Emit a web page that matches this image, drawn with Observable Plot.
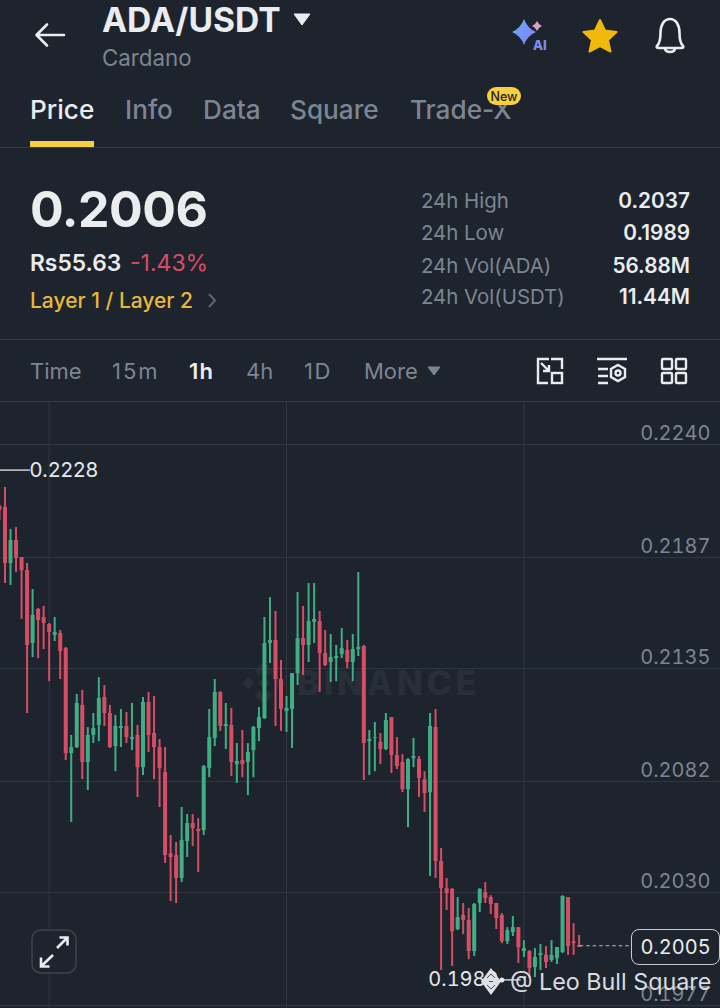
<!DOCTYPE html>
<html><head><meta charset="utf-8">
<script src="https://cdn.jsdelivr.net/npm/d3@7"></script>
<script src="https://cdn.jsdelivr.net/npm/@observablehq/plot@0.6"></script>
<style>
html,body{margin:0;padding:0;background:#1e242e;width:720px;height:1008px;overflow:hidden;font-family:Inter,"Noto Sans",sans-serif;}
.t{position:absolute;white-space:nowrap;line-height:1;transform:translateY(-50%);}
.ln{position:absolute;left:0;width:720px;height:1px;background:#343b46;}
.ic{position:absolute;}
#chart{position:absolute;left:0;top:402px;z-index:2;}
#wm{position:absolute;left:297px;top:683px;transform:translateY(-50%);font:800 34px Inter,sans-serif;letter-spacing:3.8px;color:#282f39;z-index:1;line-height:1;}
.over{z-index:3;}
</style></head><body>
<div id="chart"></div>
<script>
const highs=[.22115,
.22198,.22002,.22011,.21870,.21842,.21720,.21631,.21641,.21561,.21589,
.21528,.21448,.21036,.21228,.21247,.21073,.21139,.21307,.21270,.21177,
.21130,.21158,.21144,.21186,.21083,.21214,.21238,.21219,.21017,.20979,
.20567,.20534,.20698,.20665,.20665,.20646,.20895,.21158,.21298,.21240,
.21186,.21163,.20998,.21059,.20998,.21078,.21167,.21589,.21682,.21617,
.21387,.21219,.21326,.21706,.21641,.21748,.21748,.21617,.21528,.21509,
.21458,.21537,.21481,.21509,.21800,.21458,.21059,.21097,.21045,.21139,
.21120,.21026,.20946,.20927,.21022,.20937,.20866,.21139,.21158,.20506,
.20365,.20318,.20276,.20248,.20224,.20248,.20318,.20346,.20285,.20248,
.20201,.20135,.20187,.20135,.20074,.20028,.20037,.20056,.20046,.20074,
.20042,.20285,.20276,.20154,.20098];
const lows=[.22044,
.21748,.21739,.21800,.21580,.21139,.21401,.21396,.21439,.21288,.21476,
.21298,.20918,.20628,.20975,.20829,.20778,.20998,.21007,.21078,.20975,
.20866,.20979,.20998,.20965,.20745,.20848,.20956,.20829,.20698,.20436,
.20257,.20248,.20346,.20464,.20515,.20393,.20567,.20838,.20984,.21055,
.20970,.20843,.20811,.20838,.20754,.20838,.21007,.21111,.21373,.21078,
.21055,.21050,.20975,.21270,.21317,.21378,.21467,.21238,.21359,.21284,
.21288,.21396,.21349,.21288,.21406,.20825,.20848,.20866,.20899,.20965,
.20857,.20876,.20768,.20604,.20885,.20745,.20675,.20375,.20365,.19934,
.20215,.19953,.20121,.20102,.19985,.20000,.20206,.20248,.20196,.20126,
.20060,.20056,.20093,.19967,.19995,.19896,.19901,.19934,.19943,.19972,
.19962,.20014,.20005,.20005,.20042];
const opens=[.22110,
.22105,.21842,.21950,.21870,.21809,.21467,.21627,.21589,.21556,.21505,
.21514,.21443,.20951,.20979,.21177,.20909,.21036,.21083,.21214,.21139,
.20984,.21068,.21078,.21017,.21036,.20885,.21191,.21045,.20979,.20862,
.20482,.20473,.20365,.20539,.20623,.20595,.20590,.20880,.21022,.21238,
.21078,.21083,.20899,.20918,.20909,.20965,.21068,.21115,.21467,.21481,
.21298,.21148,.21158,.21326,.21490,.21458,.21566,.21570,.21420,.21378,
.21396,.21415,.21434,.21378,.21439,.21453,.21007,.21022,.21003,.20970,
.21120,.20942,.20909,.20782,.20927,.20923,.20829,.20768,.21073,.20445,
.20318,.20314,.20126,.20192,.20168,.20023,.20248,.20299,.20276,.20248,
.20192,.20069,.20112,.20135,.20023,.20023,.19948,.20005,.20005,.19981,
.19990,.20018,.20276,.20069,.20051];
const closes=[.22091,
.21842,.21950,.21865,.21809,.21458,.21599,.21575,.21561,.21519,.21519,
.21429,.20951,.20979,.21186,.20909,.21036,.21068,.21209,.21139,.20979,
.21078,.21078,.21026,.21026,.20885,.21191,.21036,.20979,.20880,.20473,
.20464,.20365,.20543,.20623,.20599,.20585,.20890,.21026,.21238,.21078,
.21087,.20909,.20914,.20899,.20956,.21073,.21120,.21467,.21481,.21298,
.21158,.21163,.21326,.21490,.21458,.21570,.21580,.21420,.21364,.21401,
.21406,.21443,.21378,.21439,.21448,.20998,.21017,.21026,.20970,.21106,
.20942,.20890,.20782,.20923,.20937,.20834,.20764,.21078,.20445,.20318,
.20295,.20116,.20182,.20168,.20023,.20243,.20314,.20271,.20243,.20177,
.20069,.20121,.20135,.20042,.20037,.19943,.19995,.20014,.19972,.20005,
.20042,.20281,.20046,.20060,.20042];
const priceTicks=[0.2240,0.2187,0.2135,0.2082,0.2030,0.1977];
const timeTicks=[8,51,94];
const peak=0.2228, trough=0.1989, lastPrice=0.2005;
const tabs=["Price","Info","Data","Square","Trade-X"];
const intervals=["Time","15m","1h","4h","1D","More"];
const statLabels=["24h High","24h Low","24h Vol(ADA)","24h Vol(USDT)"];
const statValues=["0.2037","0.1989","56.88M","11.44M"];

const candles=opens.map((o,k)=>({i:k-1,open:o,close:closes[k],high:highs[k],low:lows[k]}));
const side=d=>d.close>=d.open?"up":"down";
const plot=Plot.plot({
  width:720,height:606,margin:0,
  style:{background:"transparent",overflow:"hidden"},
  x:{domain:[0,104],range:[4.5,578.6],axis:null},
  y:{domain:[0.1977,0.2240],range:[603,42],axis:null},
  color:{domain:["up","down"],range:["#3fae84","#d64e66"]},
  marks:[
    Plot.ruleY(priceTicks,{stroke:"#313843",strokeWidth:1}),
    Plot.ruleX(timeTicks,{stroke:"#313843",strokeWidth:1}),
    Plot.ruleX(candles,{x:"i",y1:"low",y2:"high",stroke:side,strokeWidth:2}),
    Plot.ruleX(candles,{x:"i",y1:"open",y2:"close",stroke:side,strokeWidth:4}),
    Plot.text(priceTicks,{y:d=>d,text:d=>d.toFixed(4),frameAnchor:"right",dx:-10,dy:-11,fill:"#7d8592",fontSize:20,fontFamily:"Inter",fontVariant:"tabular-nums"}),
    Plot.ruleY([peak],{x1:-1,x2:4.6,stroke:"#e6e8ec",strokeWidth:1.3}),
    Plot.text([peak],{y:d=>d,x:4.45,text:d=>d.toFixed(4),textAnchor:"start",fill:"#e6e8ec",fontSize:20.500,fontFamily:"Inter"}),
    Plot.ruleY([trough],{x1:90,x2:93.5,stroke:"#e6e8ec",strokeWidth:1.3}),
    Plot.dot([trough],{y:d=>d,x:90,r:2.500,fill:"#e6e8ec"}),
    Plot.text([trough],{y:d=>d,x:89.4,text:d=>d.toFixed(4),textAnchor:"end",fill:"#e6e8ec",fontSize:20,fontFamily:"Inter",fontVariant:"tabular-nums"}),
    Plot.ruleY([lastPrice],{x1:104.2,x2:113.6,stroke:"#b8bcc3",strokeWidth:1.2,strokeDasharray:"3.5 3"})
  ]
});
document.getElementById("chart").append(plot);

function T(s,x,y,o={}){
  const e=document.createElement("div");e.className="t over";e.textContent=s;
  e.style.top=y+"px";
  if(o.right!=null)e.style.right=(720-o.right)+"px";else e.style.left=x+"px";
  e.style.fontSize=(o.size||21)+"px";e.style.fontWeight=o.w||400;e.style.color=o.c||"#7d8592";
  if(o.ls)e.style.letterSpacing=o.ls+"px";
  if(o.op)e.style.opacity=o.op;
  document.body.append(e);return e;
}
function L(y){const e=document.createElement("div");e.className="ln";e.style.top=y+"px";document.body.append(e);}
function S(html,x,y,w,h){
  const d=document.createElement("div");d.className="ic over";d.style.left=x+"px";d.style.top=y+"px";
  d.innerHTML=`<svg xmlns="http://www.w3.org/2000/svg" width="${w}" height="${h}" viewBox="0 0 ${w} ${h}" style="display:block">${html}</svg>`;
  document.body.append(d);
}
const W="#eaecef",G="#7d8592";
// top bar
S(`<path d="M30 15H3M13 4.500L2.500 15 13 25.500" fill="none" stroke="#eaecef" stroke-width="2.600" stroke-linecap="round" stroke-linejoin="round"/>`,34,20,32,30);
T("ADA/USDT",102,20,{size:33.600,w:700,c:W});
S(`<path d="M1 1H17L9 12Z" fill="#eaecef" stroke="#eaecef" stroke-linejoin="round"/>`,293,13,18,13);
T("Cardano",102,58,{size:22.300,c:G});
// right icons
S(`<defs><linearGradient id="g" x1="0" y1="0" x2="1" y2="1"><stop offset="0" stop-color="#62b2fb"/><stop offset="1" stop-color="#8a78f5"/></linearGradient></defs>
<path d="M12 1Q15.500 10.500 24 14Q15.500 17.500 12 27Q8.500 17.500 0 14Q8.500 10.500 12 1Z" fill="url(#g)"/>
<path d="M25 3Q26.500 6.500 30 8Q26.500 9.500 25 13Q23.500 9.500 20 8Q23.500 6.500 25 3Z" fill="#d9a0c8"/>
<text x="21" y="32" font-family="Inter" font-weight="800" font-size="13" fill="#7f8cf0">AI</text>`,512,18,38,34);
S(`<path d="M18 2L23 12.500L34.500 14L26 22L28.500 33.500L18 28L7.500 33.500L10 22L1.500 14L13 12.500Z" fill="#f0b90b" stroke="#f0b90b" stroke-width="2" stroke-linejoin="round"/>`,582,18,36,36);
S(`<path d="M4 30C7 27 7.500 23 7.500 17C7.500 9 11 3 17 3C23 3 26.500 9 26.500 17C26.500 23 27 27 30 30C31 31.500 30 32 28 32H6C4 32 3 31.500 4 30Z M12 33C13 37 21 37 22 33" fill="none" stroke="#eaecef" stroke-width="2.600" stroke-linejoin="round"/>`,653,16,34,38);
// tabs
const tabX=[30,125,203,290,410];
tabs.forEach((s,i)=>T(s,tabX[i],110,{size:26.200,w:500,c:i==0?W:G}));
S(`<rect x="0" y="0" width="64" height="6" fill="#f7d03c"/>`,30,141,64,6);
L(147);
S(`<rect x="0" y="0" width="34" height="18" rx="9" fill="#f7d03c"/><text x="17" y="13.500" text-anchor="middle" font-family="Inter" font-weight="500" font-size="12.500" fill="#1e2329">New</text>`,487,87,34,18);
// price block
T("0.2006",30,209,{size:50,w:700,c:W,ls:-0.500});
T("Rs55.63",30,263,{size:22.800,w:600,c:W});
T("-1.43%",130,263,{size:23,c:"#d64e66"});
T("Layer 1 / Layer 2",30,300,{size:21,w:500,c:"#e8b938"});
S(`<path d="M2 1L8 7.500L2 14" fill="none" stroke="#5f6672" stroke-width="2"/>`,207,293,10,15);
const statY=[201,233,266,297];
statLabels.forEach((s,i)=>T(s,421,statY[i],{size:20.400,c:G}));
statValues.forEach((s,i)=>T(s,0,statY[i],{size:20.800,w:600,c:W,right:690}));
L(339);
// interval bar
const ivX=[30,112,189,246,304,364];
const ivLs=[0,2,1.300,0,1.500,0];
intervals.forEach((s,i)=>T(s,ivX[i],371,{size:22,w:i==2?600:400,c:i==2?W:G,ls:ivLs[i]}));
S(`<path d="M1 1H13L7 9Z" fill="#7d8592" stroke="#7d8592" stroke-linejoin="round"/>`,427,366,14,10);
const st=`fill="none" stroke="#eaecef" stroke-width="2.400"`;
S(`<path d="M13 2H2V26H12M15 2H26V12" ${st}/><rect x="16" y="16" width="10" height="10" ${st}/><path d="M5 6L13 14M13 8V14H7" ${st}/>`,536,357,28,28);
S(`<path d="M0 2H30M1 12H11M1 19H11M1 26H11" ${st}/><path d="M21 8L28 12V20L21 24L14 20V12Z" ${st}/><circle cx="21" cy="16" r="2.500" ${st}/>`,597,357,32,28);
S(`<rect x="2" y="2" width="10" height="10" rx="1" ${st}/><rect x="16" y="2" width="10" height="10" rx="1" ${st}/><rect x="2" y="16" width="10" height="10" rx="1" ${st}/><rect x="16" y="16" width="10" height="10" rx="1" ${st}/>`,660,357,28,28);
L(401);
// watermark behind candles
const wm=document.createElement("div");wm.id="wm";wm.textContent="BINANCE";document.body.append(wm);
const dm=document.createElement("div");dm.style.cssText="position:absolute;left:240px;top:660px;z-index:1";
dm.innerHTML=`<svg width="48" height="46" viewBox="0 0 40 38"><g fill="#282f39"><path d="M20 1L28 9L24 13L20 9L16 13L12 9Z"/><path d="M20 37L28 29L24 25L20 29L16 25L12 29Z"/><path d="M2 19L7 14L12 19L7 24Z"/><path d="M28 19L33 14L38 19L33 24Z"/><path d="M20 14L25 19L20 24L15 19Z"/></g></svg>`;
document.body.append(dm);
// price tag
const tag=document.createElement("div");
tag.className="over";tag.textContent=lastPrice.toFixed(4);
tag.style.cssText="position:absolute;z-index:3;left:631px;top:929px;width:87px;height:34px;border:1px solid #c9ccd1;border-radius:8px;background:#1e242e;color:#eaecef;font-size:20px;line-height:34px;text-align:center;font-variant-numeric:tabular-nums;";
document.body.append(tag);
// expand button
S(`<rect x="1" y="1" width="44" height="43" rx="9" fill="#1e242e" stroke="#3c434e" stroke-width="1.500"/>
<path d="M26 19L36 9M28.500 8.500H36.500V16.500" fill="none" stroke="#eaecef" stroke-width="2.600"/>
<path d="M22 26L10.500 37M10 28.500V37.500H18.500" fill="none" stroke="#eaecef" stroke-width="2.600"/>`,31,929,46,46);
// overlay signature
S(`<path d="M10 0L20 13.500L10 27L0 13.500Z" fill="#dfe1e4"/><g fill="none" stroke="#4a4f57" stroke-width="1"><path d="M10 6L14 10M10 6L6 10M10 21L14 17M10 21L6 17M8 13.500H12"/></g>`,481,968,20,27);
T("@ Leo Bull Square",510,982,{size:23.300,c:"#d9dbdf"});
</script>
</body></html>
